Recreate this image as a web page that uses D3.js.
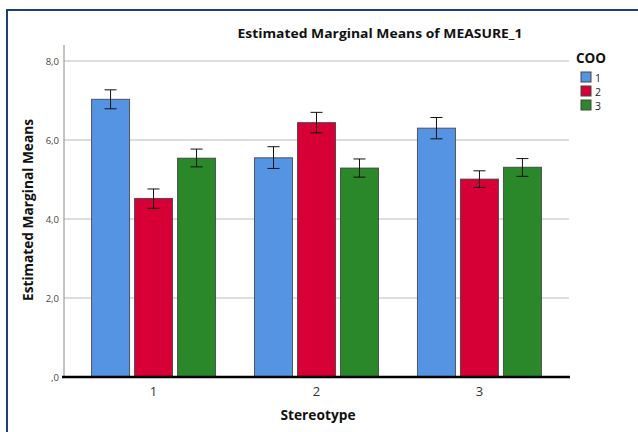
<!DOCTYPE html>
<html><head><meta charset="utf-8">
<script src="https://cdn.jsdelivr.net/npm/d3@7"></script>
<style>body{margin:0;background:#fff}svg{display:block}</style>
</head><body>
<script>
const categories = ["1","2","3"];
const series = ["1","2","3"];
const means = [[7.03,4.52,5.54],[5.55,6.44,5.29],[6.30,5.01,5.31]];
const errLow = [[6.79,4.27,5.32],[5.28,6.18,5.06],[6.03,4.80,5.08]];
const errHigh = [[7.27,4.76,5.77],[5.83,6.70,5.52],[6.57,5.22,5.53]];
const yTicks = [0,2,4,6,8];
const yTickLabels = [",0","2,0","4,0","6,0","8,0"];
const colors = ["#5594E2","#D60036","#2A872A"];

const W=638,H=432;
const svg=d3.select("body").append("svg").attr("width",W).attr("height",H);
const font="'Open Sans', 'DejaVu Sans', sans-serif";

// frame
svg.append("path").attr("d","M7,432 V10 H638").attr("fill","none").attr("stroke","#1F3C7C").attr("stroke-width",2);

const x0=64,x1=569,yTop=45,yBot=377;
const y=d3.scaleLinear().domain([0,8]).range([yBot,61]);
const xb=d3.scaleBand().domain(categories).range([x0,x1]).paddingInner(0.233).paddingOuter(0.166);
const xs=d3.scaleBand().domain(series).range([0,xb.bandwidth()]).paddingInner(0.093).paddingOuter(0);

// gridlines
svg.append("g").selectAll("line").data(yTicks.filter(d=>d>0)).join("line")
 .attr("x1",x0).attr("x2",x1).attr("y1",d=>y(d)).attr("y2",d=>y(d))
 .attr("stroke","#D2D2D2").attr("stroke-width",1.5);

// y axis
const yAxis=d3.axisLeft(y).tickValues(yTicks).tickSize(0).tickPadding(5).tickFormat((d,i)=>yTickLabels[i]);
const gy=svg.append("g").attr("transform",`translate(${x0},0)`).call(yAxis);
gy.select(".domain").remove();
gy.selectAll("text").attr("font-family",font).attr("font-size",9.5).attr("fill","#444");
svg.append("line").attr("x1",x0).attr("x2",x0).attr("y1",yTop).attr("y2",yBot).attr("stroke","#888").attr("stroke-width",1);

// bars
const groups=svg.append("g").selectAll("g").data(categories).join("g")
 .attr("transform",d=>`translate(${xb(d)},0)`);
groups.each(function(c,ci){
  const g=d3.select(this);
  series.forEach((s,si)=>{
    const v=means[ci][si];
    g.append("rect").attr("x",xs(s)+0.5).attr("y",y(v)).attr("width",xs.bandwidth()-1).attr("height",y(0)-y(v))
     .attr("fill",colors[si]).attr("stroke","#3a3a3a").attr("stroke-opacity",0.8).attr("stroke-width",1);
    const cx=xs(s)+xs.bandwidth()/2;
    const lo=y(errLow[ci][si]),hi=y(errHigh[ci][si]);
    g.append("line").attr("x1",cx).attr("x2",cx).attr("y1",lo).attr("y2",hi).attr("stroke","#111").attr("stroke-width",1);
    g.append("line").attr("x1",cx-6).attr("x2",cx+6).attr("y1",lo).attr("y2",lo).attr("stroke","#111").attr("stroke-width",1);
    g.append("line").attr("x1",cx-6).attr("x2",cx+6).attr("y1",hi).attr("y2",hi).attr("stroke","#111").attr("stroke-width",1);
  });
});

// x axis
const xAxis=d3.axisBottom(xb).tickSize(0).tickPadding(10);
const gx=svg.append("g").attr("transform",`translate(0,${yBot})`).call(xAxis);
gx.select(".domain").remove();
gx.selectAll("text").attr("font-family",font).attr("font-size",13).attr("fill","#333");
svg.append("line").attr("x1",x0-2).attr("x2",x1+1).attr("y1",yBot).attr("y2",yBot).attr("stroke","#000").attr("stroke-width",2.5);

// titles
svg.append("text").attr("x",380).attr("y",38).attr("text-anchor","middle")
 .attr("font-family",font).attr("font-weight","bold").attr("font-size",13).attr("fill","#111")
 .attr("textLength",285).attr("lengthAdjust","spacingAndGlyphs").text("Estimated Marginal Means of MEASURE_1");
svg.append("text").attr("transform","translate(33,210) rotate(-90)").attr("text-anchor","middle")
 .attr("font-family",font).attr("font-weight","bold").attr("font-size",13.5).attr("fill","#111")
 .attr("textLength",182).attr("lengthAdjust","spacingAndGlyphs").text("Estimated Marginal Means");
svg.append("text").attr("x",318).attr("y",420).attr("text-anchor","middle")
 .attr("font-family",font).attr("font-weight","bold").attr("font-size",13.5).attr("fill","#111")
 .attr("textLength",75).attr("lengthAdjust","spacingAndGlyphs").text("Stereotype");

// legend
const lg=svg.append("g");
lg.append("text").attr("x",576).attr("y",63).attr("font-family",font).attr("font-weight","bold")
 .attr("font-size",13.5).attr("fill","#111").text("COO");
series.forEach((s,i)=>{
  lg.append("rect").attr("x",581).attr("y",72+i*14).attr("width",10).attr("height",10)
   .attr("fill",colors[i]).attr("stroke","#444").attr("stroke-width",1);
  lg.append("text").attr("x",595).attr("y",81.5+i*14).attr("font-family",font).attr("font-size",10.5)
   .attr("fill","#222").text(s);
});
</script>
</body></html>
